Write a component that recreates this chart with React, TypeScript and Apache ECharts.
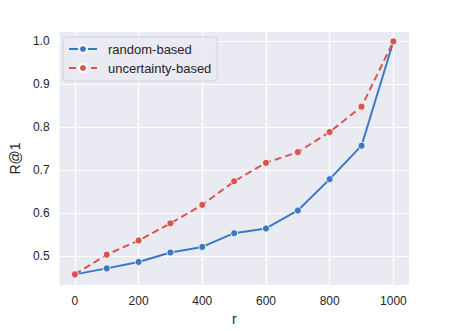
import React, { useEffect, useRef } from "react";
import * as echarts from "echarts";

const rValues = [0, 100, 200, 300, 400, 500, 600, 700, 800, 900, 1000];
const randomBased = [0.457, 0.471, 0.486, 0.508, 0.521, 0.553, 0.564, 0.606, 0.679, 0.757, 1.0];
const uncertaintyBased = [0.457, 0.503, 0.536, 0.576, 0.619, 0.674, 0.717, 0.742, 0.789, 0.848, 1.0];
const seriesNames = ["random-based", "uncertainty-based"];
const xTicks = [0, 200, 400, 600, 800, 1000];
const yTicks = [0.5, 0.6, 0.7, 0.8, 0.9, 1.0];

export default function App() {
  const ref = useRef<HTMLDivElement>(null);
  useEffect(() => {
    const chart = echarts.init(ref.current!, null, { renderer: "svg" });
    const font = "Liberation Sans";
    chart.setOption({
      animation: false,
      backgroundColor: "#ffffff",
      textStyle: { fontFamily: font },
      grid: { left: 57, right: 46, top: 32, bottom: 38, show: true, backgroundColor: "#EAEAF2", borderWidth: 0 },
      legend: {
        orient: "vertical",
        left: 63,
        top: 37,
        itemWidth: 28,
        itemHeight: 10,
        itemGap: 5,
        padding: [5, 6, 6, 5],
        backgroundColor: "rgba(234,234,242,0.85)",
        borderColor: "#d0d0d8",
        borderWidth: 1,
        borderRadius: 4,
        textStyle: { fontFamily: font, fontSize: 13, color: "#262626", padding: [0, 0, 0, 6], lineHeight: 14 },
        data: seriesNames,
      },
      xAxis: {
        type: "value",
        min: -48,
        max: 1049,
        name: "r",
        nameLocation: "middle",
        nameGap: 26,
        nameTextStyle: { fontFamily: font, fontSize: 14, color: "#262626" },
        axisLine: { show: false },
        axisTick: { show: false, customValues: xTicks },
        splitLine: { show: true, lineStyle: { color: "#ffffff", width: 1.2 } },
        axisLabel: {
          fontFamily: font,
          fontSize: 12,
          color: "#262626",
          margin: 10,
          customValues: xTicks,
          formatter: (v: number) => String(v),
        },
      },
      yAxis: {
        type: "value",
        min: 0.432,
        max: 1.022,
        name: "R@1",
        nameLocation: "middle",
        nameGap: 34,
        nameTextStyle: { fontFamily: font, fontSize: 14, color: "#262626" },
        axisLine: { show: false },
        axisTick: { show: false, customValues: yTicks },
        splitLine: { show: true, lineStyle: { color: "#ffffff", width: 1.2 } },
        axisLabel: {
          fontFamily: font,
          fontSize: 12,
          color: "#262626",
          margin: 10,
          customValues: yTicks,
          formatter: (v: number) => v.toFixed(1),
        },
      },
      series: [
        {
          name: seriesNames[0],
          type: "line",
          data: rValues.map((r, i) => [r, randomBased[i]]),
          symbol: "circle",
          symbolSize: 7,
          color: "#3A78C6",
          lineStyle: { width: 2, color: "#3A78C6" },
          itemStyle: { color: "#3A78C6", borderColor: "#ffffff", borderWidth: 0.8 },
          z: 3,
        },
        {
          name: seriesNames[1],
          type: "line",
          data: rValues.map((r, i) => [r, uncertaintyBased[i]]),
          symbol: "circle",
          symbolSize: 7,
          color: "#D9534F",
          lineStyle: { width: 2, type: [7, 4], color: "#D9534F" },
          itemStyle: { color: "#D9534F", borderColor: "#ffffff", borderWidth: 0.8 },
          z: 4,
        },
      ],
    });
    return () => chart.dispose();
  }, []);
  return <div ref={ref} style={{ width: 455, height: 331, position: "absolute", left: 0, top: 0 }} />;
}
